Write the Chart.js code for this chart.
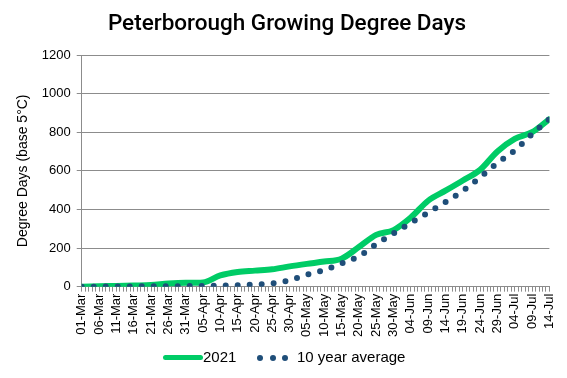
<!DOCTYPE html>
<html>
<head>
<meta charset="utf-8">
<script src="https://cdn.jsdelivr.net/npm/chart.js@4"></script>
<style>
  html, body { margin: 0; padding: 0; background: #fff; }
  #wrap { position: relative; width: 567px; height: 378px; }
  #legend { position: absolute; top: 347px; left: 0; width: 567px; height: 20px;
    font-family: "Liberation Sans", Arial, sans-serif; font-size: 15px; color: #000; }
  #legend span { position: absolute; top: 1px; }
  .bar { position: absolute; left: 163px; top: 8px; width: 40px; height: 5px; background: #00cc66; border-radius: 3px; }
  .dot { position: absolute; top: 8px; width: 6px; height: 6px; border-radius: 50%; background: #1f4e79; }
</style>
</head>
<body>
<div id="wrap">
  <canvas id="grafico" width="567" height="378"></canvas>
  <div id="legend">
    <div class="bar"></div><span style="left:203px">2021</span>
    <div class="dot" style="left:257px"></div>
    <div class="dot" style="left:270px"></div>
    <div class="dot" style="left:282px"></div>
    <span style="left:297px">10 year average</span>
  </div>
</div>
<script>
// day index since 01-Mar, one value every 5 days
const dias = [0, 5, 10, 15, 20, 25, 30, 35, 40, 45, 50, 55, 60, 65,
  70, 75, 80, 85, 90, 95, 100, 105, 110, 115, 120, 125, 130, 135];

const rotulos = ["01-Mar", "06-Mar", "11-Mar", "16-Mar", "21-Mar", "26-Mar", "31-Mar",
  "05-Apr", "10-Apr", "15-Apr", "20-Apr", "25-Apr", "30-Apr",
  "05-May", "10-May", "15-May", "20-May", "25-May", "30-May",
  "04-Jun", "09-Jun", "14-Jun", "19-Jun", "24-Jun", "29-Jun",
  "04-Jul", "09-Jul", "14-Jul"];

const gdd2021 = [0, 2, 4, 6, 8, 16, 20, 22, 58, 76, 83, 90, 105, 118,
  130, 145, 205, 268, 293, 358, 445, 497, 550, 605, 700, 765, 800, 868];

const media10anos = [0, 0, 1, 1, 2, 2, 3, 4, 5, 7, 11, 17, 33, 62,
  86, 120, 157, 220, 276, 330, 384, 438, 496, 566, 640, 706, 790, 868];

const fonte = "'Liberation Sans', Arial, sans-serif";
const cinza = "#8c8c8c";

function pontos(valores) {
  return dias.map((d, i) => ({ x: d, y: valores[i] }));
}

const ctx = document.getElementById("grafico").getContext("2d");

new Chart(ctx, {
  type: "line",
  data: {
    datasets: [
      {
        label: "2021",
        data: pontos(gdd2021),
        borderColor: "#00cc66",
        backgroundColor: "#00cc66",
        borderWidth: 6,
        borderCapStyle: "round",
        pointRadius: 0,
        cubicInterpolationMode: "monotone",
        order: 1
      },
      {
        label: "10 year average",
        data: pontos(media10anos),
        borderColor: "#1f4e79",
        backgroundColor: "#1f4e79",
        borderWidth: 6,
        borderDash: [0, 12],
        borderCapStyle: "round",
        pointRadius: 0,
        cubicInterpolationMode: "monotone",
        order: 0
      }
    ]
  },
  options: {
    responsive: false,
    animation: false,
    layout: { padding: { left: 15, right: 8, top: 4, bottom: 39 } },
    plugins: {
      legend: { display: false },
      tooltip: { enabled: false },
      title: {
        display: true,
        text: "Peterborough Growing Degree Days",
        color: "#000",
        font: { family: "Roboto", size: 22.5, weight: "500" },
        padding: { top: 7, bottom: 17 }
      }
    },
    scales: {
      x: {
        type: "linear",
        min: 0,
        max: 135,
        border: { color: cinza, width: 1 },
        grid: { drawOnChartArea: false, tickLength: 5, color: cinza },
        ticks: {
          stepSize: 1,
          maxTicksLimit: 200,
          autoSkip: false,
          maxRotation: 90,
          minRotation: 90,
          padding: 2,
          color: "#000",
          font: { family: fonte, size: 13 },
          callback: v => (v % 5 === 0 ? rotulos[v / 5] : "")
        }
      },
      y: {
        min: 0,
        max: 1200,
        border: { color: cinza, width: 1 },
        grid: { color: cinza, tickLength: 5 },
        ticks: {
          stepSize: 200,
          padding: 6,
          color: "#000",
          font: { family: fonte, size: 13 },
          callback: v => String(v)
        },
        title: {
          display: true,
          text: "Degree Days (base 5°C)",
          color: "#000",
          font: { family: fonte, size: 14 },
          padding: { top: 0, bottom: 4 }
        }
      }
    }
  }
});
</script>
</body>
</html>
